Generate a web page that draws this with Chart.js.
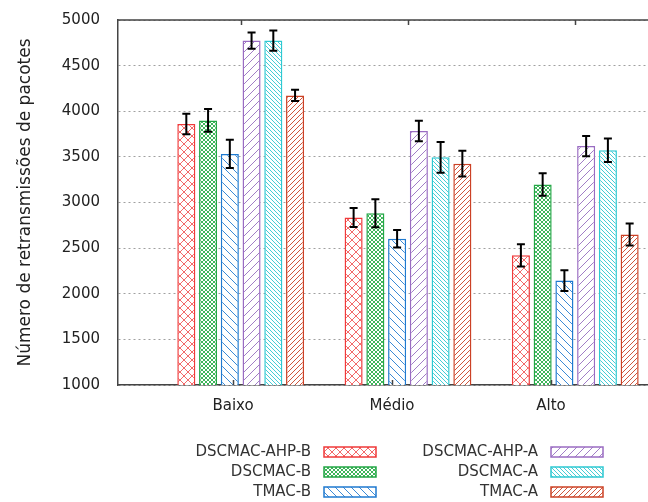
<!DOCTYPE html>
<html>
<head>
<meta charset="utf-8">
<script src="https://cdn.jsdelivr.net/npm/chart.js@4"></script>
<style>
  html, body { margin: 0; padding: 0; background: #fff; overflow: hidden; }
  #c { display: block; }
</style>
</head>
<body>
<canvas id="c" width="700" height="502" style="width:700px;height:502px"></canvas>
<script>
// data
const categories = ['Baixo', 'Médio', 'Alto'];
const seriesNames = ['DSCMAC-AHP-B', 'DSCMAC-B', 'TMAC-B', 'DSCMAC-AHP-A', 'DSCMAC-A', 'TMAC-A'];

const ahpB     = [3860, 2836, 2421];
const dscmacB  = [3900, 2883, 3197];
const tmacB    = [3532, 2603, 2144];
const ahpA     = [4774, 3783, 3619];
const dscmacA  = [4774, 3495, 3572];
const tmacA    = [4173, 3426, 2650];

const ahpBErr    = [113, 105, 122];
const dscmacBErr = [124, 153, 124];
const tmacBErr   = [155, 97, 113];
const ahpAErr    = [89, 113, 111];
const dscmacAErr = [111, 168, 129];
const tmacAErr   = [62, 140, 120];

const yTicks = [1000, 1500, 2000, 2500, 3000, 3500, 4000, 4500, 5000];

const FONT = "'DejaVu Sans', sans-serif";

// hatch patterns
function hatch(kind, color, size) {
  const c = document.createElement('canvas');
  c.width = size; c.height = size;
  const g = c.getContext('2d');
  g.fillStyle = '#fff';
  g.fillRect(0, 0, size, size);
  g.strokeStyle = color;
  g.lineWidth = 1;
  g.beginPath();
  if (kind === '/' || kind === 'x') {
    g.moveTo(-1, size + 1); g.lineTo(size + 1, -1);
    g.moveTo(-size - 1, size + 1); g.lineTo(1, -1);
    g.moveTo(size - 1, 2 * size + 1); g.lineTo(2 * size + 1, size - 1);
  }
  if (kind === '\\' || kind === 'x') {
    g.moveTo(-1, -1); g.lineTo(size + 1, size + 1);
    g.moveTo(-size - 1, -1); g.lineTo(1, size + 1);
    g.moveTo(size - 1, -1); g.lineTo(2 * size + 1, size + 1);
  }
  g.stroke();
  return g.createPattern(c, 'repeat');
}

const colors = ['#f03a3a', '#23a745', '#1f7ad0', '#9a6cc2', '#2ec9d2', '#cc4125'];
const patterns = [
  hatch('x', '#f26a6a', 8),
  hatch('x', '#3db55a', 4),
  hatch('\\', '#3b8ad6', 8),
  hatch('/', '#a17ec6', 8),
  hatch('\\', '#45cdd6', 4),
  hatch('/', '#d0553c', 5)
];

const values = [ahpB, dscmacB, tmacB, ahpA, dscmacA, tmacA];
const errors = [ahpBErr, dscmacBErr, tmacBErr, ahpAErr, dscmacAErr, tmacAErr];

const datasets = seriesNames.map((name, i) => ({
  label: name,
  xAxisID: 'xb',
  data: values[i].map((v, j) => ({ x: j, y: v })),
  backgroundColor: patterns[i],
  borderColor: colors[i],
  borderWidth: 1.5,
  categoryPercentage: 0.78,
  barPercentage: 0.83
}));

// error bars drawn through the y scale
const errorBars = {
  id: 'errorBars',
  afterDatasetsDraw(chart) {
    const ctx = chart.ctx, y = chart.scales.y;
    ctx.save();
    ctx.strokeStyle = '#000';
    ctx.lineWidth = 2;
    chart.data.datasets.forEach((ds, i) => {
      chart.getDatasetMeta(i).data.forEach((bar, j) => {
        const v = values[i][j], e = errors[i][j];
        const top = y.getPixelForValue(v + e), bot = y.getPixelForValue(v - e);
        ctx.beginPath();
        ctx.moveTo(bar.x, top); ctx.lineTo(bar.x, bot);
        ctx.moveTo(bar.x - 4, top); ctx.lineTo(bar.x + 4, top);
        ctx.moveTo(bar.x - 4, bot); ctx.lineTo(bar.x + 4, bot);
        ctx.stroke();
      });
    });
    ctx.restore();
  }
};

// top frame line and gnuplot style inner ticks
const frame = {
  id: 'frame',
  afterDraw(chart) {
    const ctx = chart.ctx, a = chart.chartArea;
    ctx.save();
    ctx.strokeStyle = '#444';
    ctx.lineWidth = 1.5;
    ctx.beginPath();
    ctx.moveTo(a.left, a.top); ctx.lineTo(a.right, a.top);
    const xl = chart.scales.x, xb = chart.scales.xb;
    categories.forEach((c, i) => {
      const px = Math.round(xl.getPixelForValue(i)) + 0.5;
      ctx.moveTo(px, a.bottom); ctx.lineTo(px, a.bottom - 5);
      const pt = Math.round(xb.getPixelForValue(i)) + 0.5;
      ctx.moveTo(pt, a.top); ctx.lineTo(pt, a.top + 5);
    });
    ctx.stroke();
    ctx.restore();
  }
};

// legend: two columns, text right-aligned before the swatch
const legend = {
  id: 'hatchLegend',
  afterDraw(chart) {
    const ctx = chart.ctx;
    const textRight = [311, 538];
    const rowY = [452, 472, 492];
    ctx.save();
    ctx.font = '15px ' + FONT;
    ctx.fillStyle = '#333';
    ctx.textAlign = 'right';
    ctx.textBaseline = 'middle';
    chart.data.datasets.forEach((ds, i) => {
      const col = Math.floor(i / 3), row = i % 3;
      const tx = textRight[col], ty = rowY[row];
      ctx.fillText(ds.label, tx, ty);
      const bx = tx + 13, by = ty - 5;
      ctx.fillStyle = ds.backgroundColor;
      ctx.fillRect(bx, by, 52, 10);
      ctx.strokeStyle = ds.borderColor;
      ctx.lineWidth = 1.5;
      ctx.strokeRect(bx, by, 52, 10);
      ctx.fillStyle = '#333';
    });
    ctx.restore();
  }
};

new Chart(document.getElementById('c'), {
  type: 'bar',
  data: { datasets },
  options: {
    responsive: false,
    animation: false,
    layout: { padding: { left: 0, right: 20, top: 20, bottom: 0 } },
    plugins: { legend: { display: false }, tooltip: { enabled: false } },
    scales: {
      xb: {
        type: 'linear', axis: 'x', position: 'bottom', display: false,
        offset: false, grid: { offset: false },
        min: -0.7334, max: 2.626,
        afterBuildTicks: s => { s.ticks = categories.map((c, i) => ({ value: i })); }
      },
      x: {
        type: 'linear', position: 'bottom',
        offset: false,
        min: -0.7233, max: 2.811,
        afterBuildTicks: s => { s.ticks = categories.map((c, i) => ({ value: i })); },
        afterFit: s => { s.height = 117; },
        grid: { display: false, offset: false },
        border: { display: true, color: '#444', width: 1.5 },
        ticks: {
          padding: 4, maxRotation: 0, autoSkip: false,
          color: '#222', font: { family: FONT, size: 15 },
          callback: v => categories[v]
        }
      },
      y: {
        min: 1000, max: 5000,
        afterBuildTicks: s => { s.ticks = yTicks.map(v => ({ value: v })); },
        afterFit: s => { s.width = 118; },
        grid: { color: '#a0a0a0', lineWidth: 1, drawTicks: true, tickLength: 18, tickColor: 'rgba(0,0,0,0)' },
        border: { display: true, color: '#444', width: 1.5, dash: [2, 3] },
        ticks: {
          padding: 0, color: '#222', font: { family: FONT, size: 15 },
          callback: v => String(v)
        },
        title: {
          display: true, text: 'Número de retransmissões de pacotes',
          color: '#222', font: { family: FONT, size: 17 },
          padding: { top: 15, bottom: 0 }
        }
      }
    }
  },
  plugins: [errorBars, frame, legend]
});
</script>
</body>
</html>
